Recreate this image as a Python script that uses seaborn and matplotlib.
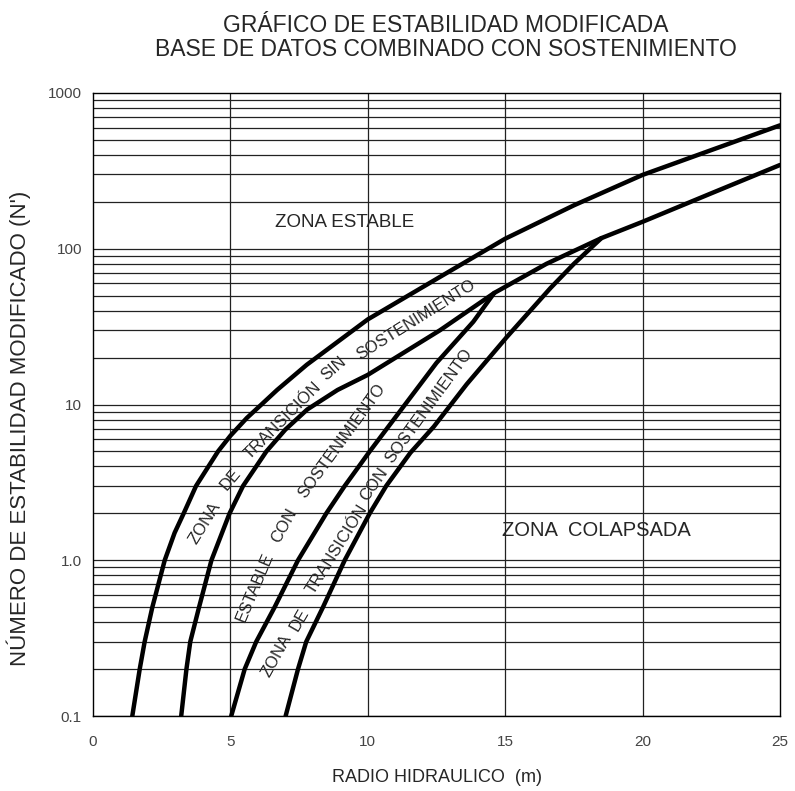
import numpy as np
import pandas as pd
import matplotlib
matplotlib.use("Agg")
import matplotlib.pyplot as plt
import seaborn as sns

# curves (hydraulic radius m, modified stability number N')
x_upper = [1.43, 1.70, 1.88, 2.16, 2.61, 2.97, 3.3, 3.75, 4.55, 5.0, 5.6, 6.13, 6.7, 7.78, 10.0,
           12.63, 15.0, 17.5, 20.0, 22.5, 25.0]
n_upper = [0.1, 0.2, 0.3, 0.5, 1.0, 1.5, 2.0, 3.0, 5.0, 6.3, 8.2, 10, 12.4, 18, 35.2,
           66, 116, 190, 298, 430, 620]

x_sin = [3.21, 3.40, 3.54, 3.86, 4.31, 4.97, 5.46, 6.31, 7.0, 7.8, 8.9, 10.0, 12.63,
         14.6, 16.5, 18.5, 20.0, 22.5, 25.0]
n_sin = [0.1, 0.2, 0.3, 0.5, 1.0, 2, 3, 5, 6.9, 9.3, 12.4, 15.5, 30,
         52, 80, 117, 149, 227, 345]

x_con = [5.03, 5.52, 5.94, 6.61, 7.46, 8.49, 9.16, 10.07, 11.3, 12.5, 13.84, 14.6]
n_con = [0.1, 0.2, 0.3, 0.5, 1.0, 2, 3, 5, 9.7, 18.5, 34, 52]

x_trans = [7.01, 7.46, 7.76, 8.37, 9.16, 10.07, 10.67, 11.55, 12.4, 13.6, 15.05, 16.65, 17.5, 18.5]
n_trans = [0.1, 0.2, 0.3, 0.5, 1.0, 2, 3, 4.9, 7.2, 13.5, 27, 56, 80, 117]

x_ticks = [0, 5, 10, 15, 20, 25]
y_ticks = [0.1, 1, 10, 100, 1000]
y_tick_labels = ["0.1", "1.0", "10", "100", "1000"]

sns.set_style("white")
plt.rcParams['font.family'] = ['Liberation Sans', 'DejaVu Sans']

fig = plt.figure(figsize=(7.95, 7.91), dpi=100)
ax = fig.add_axes([93/795, 1 - 716/791, (780-93)/795, (716-93)/791])

curves = [(x_upper, n_upper), (x_sin, n_sin), (x_con, n_con), (x_trans, n_trans)]
for xs, ns in curves:
    d = pd.DataFrame({'x': xs, 'n': ns})
    sns.lineplot(data=d, x='x', y='n', ax=ax, color='black', lw=3.2,
                 sort=False, estimator=None)

ax.set_yscale('log')
ax.set_xlim(0, 25)
ax.set_ylim(0.1, 1000)

# grid: every log subdivision + vertical lines every 5 m
for dec in [0.1, 1, 10, 100]:
    for k in range(1, 10):
        ax.axhline(dec * k, color='#222222', lw=0.9, zorder=0)
for xv in [5, 10, 15, 20]:
    ax.axvline(xv, color='#222222', lw=0.9, zorder=0)

ax.set_xticks(x_ticks)
ax.set_xticklabels([str(t) for t in x_ticks])
ax.set_yticks(y_ticks)
ax.set_yticklabels(y_tick_labels)
ax.yaxis.set_minor_locator(plt.NullLocator())
ax.tick_params(axis='both', length=0, labelsize=11, colors='#444444', pad=8)
ax.tick_params(axis='x', pad=14)
for s in ax.spines.values():
    s.set_color('black')
    s.set_linewidth(1.0)

ax.set_xlabel("RADIO HIDRAULICO  (m)", fontsize=13, labelpad=14)
ax.set_ylabel("NÚMERO DE ESTABILIDAD MODIFICADO (N')", fontsize=16)
ax.yaxis.set_label_coords(-0.09, 0.462)

fig.text(446/795, 1 - 26/791, "GRÁFICO DE ESTABILIDAD MODIFICADA", ha='center', va='center', fontsize=16.5)
fig.text(446/795, 1 - 49/791, "BASE DE DATOS COMBINADO CON SOSTENIMIENTO", ha='center', va='center', fontsize=16.5)

ax.text(9.15, 148, "ZONA ESTABLE", fontsize=13.5, ha='center', va='center')
ax.text(18.3, 1.56, "ZONA  COLAPSADA", fontsize=14.5, ha='center', va='center')

# rotated zone labels, word by word to follow the curves (positions in picture pixels)
def px(xp, yp):
    return (xp - 93) / 27.48, 10 ** ((716 - yp) / 155.75 - 1)

labels = [
    ("ZONA", 205, 523, 58), ("DE", 231, 479, 50), ("TRANSICIÓN", 283, 421, 45),
    ("SIN", 334, 369, 41), ("SOSTENIMIENTO", 416, 320, 32),
    ("ESTABLE", 255, 587, 67), ("CON", 284, 526, 61), ("SOSTENIMIENTO", 342, 441, 54),
    ("ZONA", 277, 656, 61), ("DE", 300, 620, 60), ("TRANSICIÓN", 337, 549, 58),
    ("CON", 374, 484, 55), ("SOSTENIMIENTO", 429, 406, 54),
]
for txt, xp, yp, rot in labels:
    xx, yy = px(xp, yp)
    ax.text(xx, yy, txt, fontsize=12, rotation=rot, ha='center', va='center',
            rotation_mode='anchor')

fig.savefig("out.png", dpi=100)
